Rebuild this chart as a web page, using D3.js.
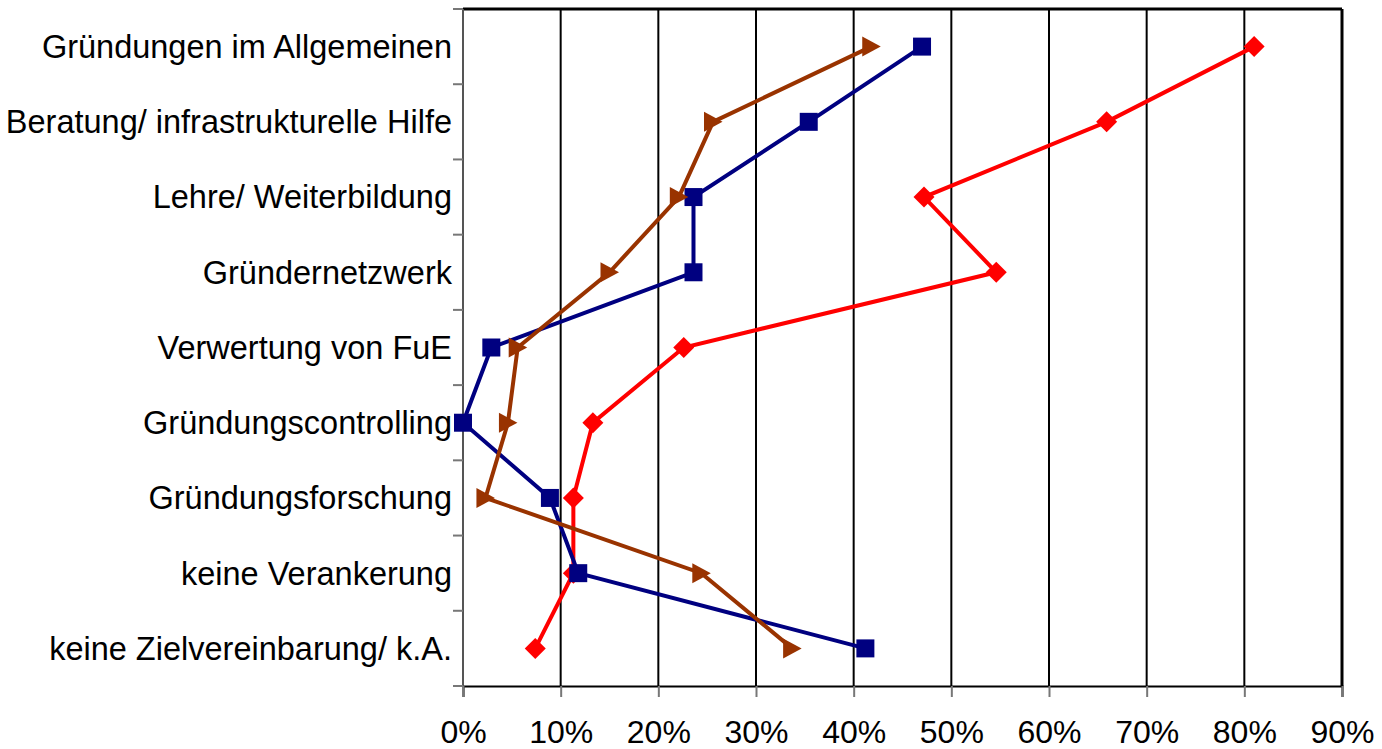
<!DOCTYPE html>
<html>
<head>
<meta charset="utf-8">
<script src="https://cdn.jsdelivr.net/npm/d3@7"></script>
<style>
  body { margin: 0; background: #fff; }
  text { font-family: "Liberation Sans", Arial, sans-serif; }
</style>
</head>
<body>
<div id="chart"></div>
<script>
// categories top to bottom
let categories = [
  "Gründungen im Allgemeinen",
  "Beratung/ infrastrukturelle Hilfe",
  "Lehre/ Weiterbildung",
  "Gründernetzwerk",
  "Verwertung von FuE",
  "Gründungscontrolling",
  "Gründungsforschung",
  "keine Verankerung",
  "keine Zielvereinbarung/ k.A."
];

// percent values
let redValues   = [81.0, 65.9, 47.2, 54.6, 22.6, 13.3, 11.3, 11.3, 7.4];
let navyValues  = [47.0, 35.4, 23.6, 23.6, 2.9, 0.0, 8.9, 11.8, 41.2];
let brownValues = [41.8, 25.6, 22.1, 15.0, 5.6, 4.6, 2.3, 24.4, 33.7];

let xTicks = [0, 10, 20, 30, 40, 50, 60, 70, 80, 90];

function drawChart() {
  let margin = { top: 9, right: 40, bottom: 63, left: 463 };
  let W = 1382, H = 749;
  let w = 1342 - margin.left;
  let h = 686 - margin.top;

  let svg = d3.select("#chart").append("svg")
      .attr("width", W)
      .attr("height", H);

  let g = svg.append("g")
      .attr("transform", `translate(${margin.left}, ${margin.top})`);

  let x = d3.scaleLinear().domain([0, 90]).range([0, w]);
  let y = d3.scaleBand().domain(categories).range([0, h]);
  let cy = d => y(d) + y.bandwidth() / 2;

  // vertical gridlines
  g.selectAll(".grid")
      .data(xTicks.slice(1))
      .enter().append("line")
      .attr("x1", d => x(d)).attr("x2", d => x(d))
      .attr("y1", 0).attr("y2", h)
      .attr("stroke", "#000")
      .attr("stroke-width", 2);

  // top border
  g.append("line")
      .attr("x1", 0).attr("x2", w)
      .attr("y1", 0).attr("y2", 0)
      .attr("stroke", "#000").attr("stroke-width", 3);

  // x axis at bottom
  let xAxis = d3.axisBottom(x)
      .tickValues(xTicks)
      .tickFormat(d => d + "%")
      .tickSize(11)
      .tickPadding(23);
  let xg = g.append("g")
      .attr("transform", `translate(0, ${h})`)
      .call(xAxis);
  xg.select(".domain").attr("stroke", "#000").attr("stroke-width", 2);
  xg.selectAll(".tick line").attr("stroke", "#777").attr("stroke-width", 2);
  xg.selectAll(".tick text")
      .attr("font-size", 32)
      .attr("font-family", "Liberation Sans, Arial, sans-serif")
      .attr("fill", "#000");

  // y axis on left, ticks at category boundaries
  let yBound = d3.scaleLinear().domain([0, categories.length]).range([0, h]);
  let yAxisG = g.append("g");
  yAxisG.append("line")
      .attr("x1", 0).attr("x2", 0)
      .attr("y1", 0).attr("y2", h)
      .attr("stroke", "#555").attr("stroke-width", 2);
  yAxisG.selectAll(".ytick")
      .data(d3.range(categories.length + 1))
      .enter().append("line")
      .attr("x1", -10).attr("x2", 0)
      .attr("y1", d => yBound(d)).attr("y2", d => yBound(d))
      .attr("stroke", "#777").attr("stroke-width", 2);
  yAxisG.selectAll(".ylabel")
      .data(categories)
      .enter().append("text")
      .attr("x", -11)
      .attr("y", d => cy(d))
      .attr("dy", "0.35em")
      .attr("text-anchor", "end")
      .attr("font-size", 32.5)
      .attr("fill", "#000")
      .text(d => d);

  let line = d3.line()
      .x(d => x(d.v))
      .y(d => cy(d.c));

  let series = [
    { values: redValues, color: "#ff0000", marker: "diamond" },
    { values: navyValues, color: "#000080", marker: "square" },
    { values: brownValues, color: "#993300", marker: "triangle" }
  ];

  let markerPath = {
    diamond: "M0,-10.5L10.5,0L0,10.5L-10.5,0Z",
    square: "M-9,-9H9V9H-9Z",
    triangle: "M-9,-10L9.5,0L-9,10Z"
  };

  series.forEach(s => {
    let pts = categories.map((c, i) => ({ c: c, v: s.values[i] }));
    g.append("path")
        .datum(pts)
        .attr("fill", "none")
        .attr("stroke", s.color)
        .attr("stroke-width", 4)
        .attr("stroke-linejoin", "miter")
        .attr("d", line);
    g.selectAll(null)
        .data(pts)
        .enter().append("path")
        .attr("transform", d => `translate(${x(d.v)}, ${cy(d.c)})`)
        .attr("d", markerPath[s.marker])
        .attr("fill", s.color);
  });

  // right border
  g.append("line")
      .attr("x1", w).attr("x2", w)
      .attr("y1", 0).attr("y2", h)
      .attr("stroke", "#000").attr("stroke-width", 3);
}

drawChart();
</script>
</body>
</html>
